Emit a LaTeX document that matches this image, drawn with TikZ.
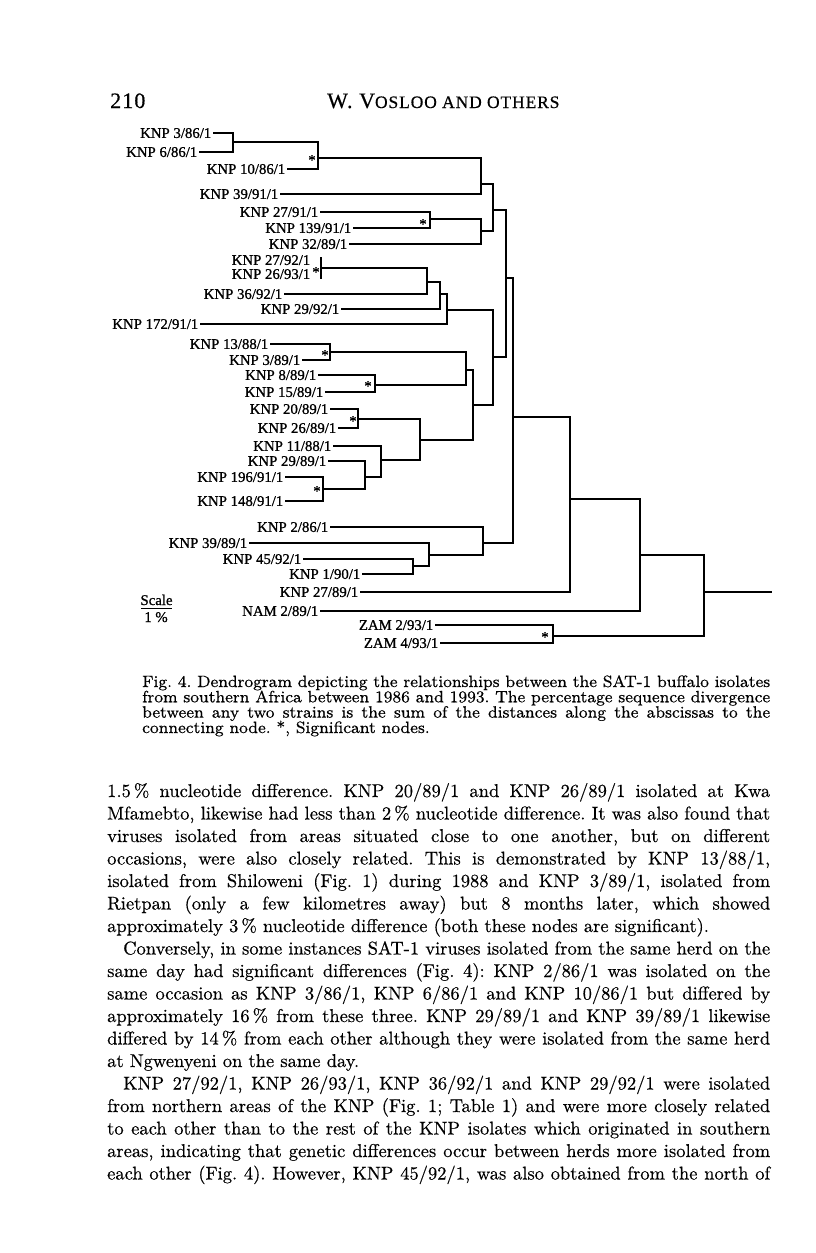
\documentclass[tikz,border=0pt]{standalone}
\usepackage{fontspec}
\newfontfamily\labserif{Liberation Serif}[FakeBold=0.9]
\newfontfamily\hdserif{Liberation Serif}[LetterSpace=5,FakeBold=0.5]
\newfontfamily\bodyrm{lmroman10-regular.otf}[FakeBold=0.4]
\newfontfamily\caprm{lmroman8-regular.otf}[FakeBold=0.4]
\newlength\mymw
\makeatletter
\newcommand\mymeasure[3]{\settowidth\mymw{#1\fontsize{10pt}{12pt}\selectfont #3}\xdef#2{\strip@pt\mymw}}
\makeatother
\newcommand\fsc[1]{{\fontsize{17.5pt}{17.5pt}\selectfont #1}}
\tikzset{
  leaf/.style={font=\fontsize{14.8pt}{16pt}\selectfont\labserif, anchor=east, inner xsep=1.5pt, inner ysep=0pt, text height=9.8pt, text depth=0pt},
  sig/.style={font=\fontsize{14.8pt}{16pt}\selectfont\labserif, inner sep=0pt},
  br/.style={line width=1.8pt, line join=miter},
  capline/.style={anchor=base west, inner sep=0pt, font=\caprm\fontsize{\capsize pt}{\capsize pt}\selectfont},
  bodyline/.style={anchor=base west, inner sep=0pt, font=\bodyrm\fontsize{\bodysize pt}{\bodysize pt}\selectfont},
  hd/.style={anchor=base west, inner sep=0pt, font=\hdserif\fontsize{22pt}{22pt}\selectfont}
}
\begin{document}
\frenchspacing
\mymeasure\caprm\wCa{Fig. 4. Dendrogram depicting the relationships between the SAT-1 buffalo isolates}%
\mymeasure\caprm\wCb{from southern Africa between 1986 and 1993. The percentage sequence divergence}%
\mymeasure\caprm\wCc{between any two strains is the sum of the distances along the abscissas to the}%
\pgfmathsetmacro\capsize{10*min(628/\wCa,628/\wCb,628/\wCc)}%
\mymeasure\bodyrm\wBa{Mfamebto, likewise had less than 2\,\% nucleotide difference. It was also found that}%
\mymeasure\bodyrm\wBb{differed by 14\,\% from each other although they were isolated from the same herd}%
\mymeasure\bodyrm\wBc{areas, indicating that genetic differences occur between herds more isolated from}%
\mymeasure\bodyrm\wBd{from northern areas of the KNP (Fig. 1; Table 1) and were more closely related}%
\mymeasure\bodyrm\wBe{to each other than to the rest of the KNP isolates which originated in southern}%
\pgfmathsetmacro\bodysize{10*min(663/\wBa,663/\wBb,663/\wBc,663/\wBd,663/\wBe)}%
\begin{tikzpicture}[x=1pt,y=-1pt]
\useasboundingbox[fill=white] (0,0) rectangle (816,1253);
% header
\node[hd] (pg) at (110,108) {210};
\node[hd] (rh) at (327,108) {W. V\fsc{OSLOO AND OTHERS}};
% leaves
\node[leaf] (a1) at (213,133) {KNP 3/86/1};
\node[leaf] (a2) at (199,152) {KNP 6/86/1};
\node[leaf] (a3) at (287,169) {KNP 10/86/1};
\node[leaf] (a4) at (280,194) {KNP 39/91/1};
\node[leaf] (a5) at (320,212) {KNP 27/91/1};
\node[leaf] (a6) at (353,228) {KNP 139/91/1};
\node[leaf] (a7) at (349,244) {KNP 32/89/1};
\node[leaf] (a8) at (312,260) {KNP 27/92/1};
\node[leaf] (a9) at (312,274) {KNP 26/93/1};
\node[leaf] (a10) at (284,294) {KNP 36/92/1};
\node[leaf] (a11) at (341,309) {KNP 29/92/1};
\node[leaf] (a12) at (200,324) {KNP 172/91/1};
\node[leaf] (a13) at (270,344) {KNP 13/88/1};
\node[leaf] (a14) at (302,360) {KNP 3/89/1};
\node[leaf] (a15) at (318,375) {KNP 8/89/1};
\node[leaf] (a16) at (325,392) {KNP 15/89/1};
\node[leaf] (a17) at (330,409) {KNP 20/89/1};
\node[leaf] (a18) at (338,428) {KNP 26/89/1};
\node[leaf] (a19) at (333,446) {KNP 11/88/1};
\node[leaf] (a20) at (328,461) {KNP 29/89/1};
\node[leaf] (a21) at (285,477) {KNP 196/91/1};
\node[leaf] (a22) at (285,501) {KNP 148/91/1};
\node[leaf] (a23) at (330,527) {KNP 2/86/1};
\node[leaf] (a24) at (249,543) {KNP 39/89/1};
\node[leaf] (a25) at (303,559) {KNP 45/92/1};
\node[leaf] (a26) at (362,574) {KNP 1/90/1};
\node[leaf] (a27) at (360,592) {KNP 27/89/1};
\node[leaf] (a28) at (320,611) {NAM 2/89/1};
\node[leaf] (a29) at (435,625) {ZAM 2/93/1};
\node[leaf] (a30) at (440,643) {ZAM 4/93/1};
% internal nodes
\coordinate (n1) at (233,142);
\coordinate (n2) at (318,158);
\coordinate (n3) at (481,184);
\coordinate (n4) at (430,219);
\coordinate (n5) at (481,231);
\coordinate (n6) at (493,210);
\coordinate (n7) at (321,268);
\coordinate (n7t) at (321,257);
\coordinate (n7b) at (321,279);
\coordinate (n8) at (427,282);
\coordinate (n9) at (440,294);
\coordinate (n10) at (447,310);
\coordinate (n11) at (330,352);
\coordinate (n12) at (375,385);
\coordinate (n13) at (466,370);
\coordinate (n14) at (358,419);
\coordinate (n15) at (323,489);
\coordinate (n16) at (365,477);
\coordinate (n17) at (381,460);
\coordinate (n18) at (420,440);
\coordinate (n19) at (473,405);
\coordinate (n20) at (493,357);
\coordinate (n21) at (506,278);
\coordinate (n22) at (413,566);
\coordinate (n23) at (429,555);
\coordinate (n24) at (483,543);
\coordinate (n25) at (513,417);
\coordinate (n26) at (570,499);
\coordinate (n27) at (640,555);
\coordinate (n28) at (553,636);
\coordinate (n29) at (704,592);
\coordinate (root) at (772,592);
% branches
\draw[br] (a1.east) -| (n1) |- (a2.east);
\draw[br] (n1) -| (n2) |- (a3.east);
\draw[br] (n2) -| (n3) |- (a4.east);
\draw[br] (a5.east) -| (n4) |- (a6.east);
\draw[br] (n4) -| (n5) |- (a7.east);
\draw[br] (n3) -| (n6) |- (n5);
\draw[br] (n7t) -- (n7b);
\draw[br] (n7) -| (n8) |- (a10.east);
\draw[br] (n8) -| (n9) |- (a11.east);
\draw[br] (n9) -| (n10) |- (a12.east);
\draw[br] (a13.east) -| (n11) |- (a14.east);
\draw[br] (a15.east) -| (n12) |- (a16.east);
\draw[br] (n11) -| (n13) |- (n12);
\draw[br] (a17.east) -| (n14) |- (a18.east);
\draw[br] (a21.east) -| (n15) |- (a22.east);
\draw[br] (a20.east) -| (n16) |- (n15);
\draw[br] (a19.east) -| (n17) |- (n16);
\draw[br] (n14) -| (n18) |- (n17);
\draw[br] (n13) -| (n19) |- (n18);
\draw[br] (n10) -| (n20) |- (n19);
\draw[br] (n6) -| (n21) |- (n20);
\draw[br] (a25.east) -| (n22) |- (a26.east);
\draw[br] (a24.east) -| (n23) |- (n22);
\draw[br] (a23.east) -| (n24) |- (n23);
\draw[br] (n21) -| (n25) |- (n24);
\draw[br] (n25) -| (n26) |- (a27.east);
\draw[br] (n26) -| (n27) |- (a28.east);
\draw[br] (a29.east) -| (n28) |- (a30.east);
\draw[br] (n27) -| (n29) |- (n28);
\draw[br] (n29) -- (root);
% significance marks
\node[sig] (s1) at (312,160) {*};
\node[sig] (s2) at (423,224) {*};
\node[sig] (s3) at (316,272) {*};
\node[sig] (s4) at (325,355) {*};
\node[sig] (s5) at (368,386) {*};
\node[sig] (s6) at (353,421) {*};
\node[sig] (s7) at (317,491) {*};
\node[sig] (s8) at (545,637) {*};
% scale
\node[sig, anchor=base] (sc) at (156.5,605) {Scale};
\coordinate (scl) at (141,608.5);
\coordinate (scr) at (172,608.5);
\draw[line width=1.2pt] (scl) -- (scr);
\node[sig, anchor=base] (pc) at (156,622) {1 \%};
% caption
\node[capline] (c1) at (142,687) {\makebox[628pt][s]{Fig. 4. Dendrogram depicting the relationships between the SAT-1 buffalo isolates}};
\node[capline] (c2) at (142,702.3) {\makebox[628pt][s]{from southern Africa between 1986 and 1993. The percentage sequence divergence}};
\node[capline] (c3) at (142,717.6) {\makebox[628pt][s]{between any two strains is the sum of the distances along the abscissas to the}};
\node[capline] (c4) at (142,733) {connecting node. *, Significant nodes.};
% body
\node[bodyline] (b1) at (107,797) {\makebox[663pt][s]{1.5\,\% nucleotide difference. KNP 20/89/1 and KNP 26/89/1 isolated at Kwa}};
\node[bodyline] (b2) at (107,819.5) {\makebox[663pt][s]{Mfamebto, likewise had less than 2\,\% nucleotide difference. It was also found that}};
\node[bodyline] (b3) at (107,842) {\makebox[663pt][s]{viruses isolated from areas situated close to one another, but on different}};
\node[bodyline] (b4) at (107,864.5) {\makebox[663pt][s]{occasions, were also closely related. This is demonstrated by KNP 13/88/1,}};
\node[bodyline] (b5) at (107,887) {\makebox[663pt][s]{isolated from Shiloweni (Fig. 1) during 1988 and KNP 3/89/1, isolated from}};
\node[bodyline] (b6) at (107,909.5) {\makebox[663pt][s]{Rietpan (only a few kilometres away) but 8 months later, which showed}};
\node[bodyline] (b7) at (107,932) {approximately 3\,\% nucleotide difference (both these nodes are significant).};
\node[bodyline] (b8) at (123,954.5) {\makebox[647pt][s]{Conversely, in some instances SAT-1 viruses isolated from the same herd on the}};
\node[bodyline] (b9) at (107,977) {\makebox[663pt][s]{same day had significant differences (Fig. 4): KNP 2/86/1 was isolated on the}};
\node[bodyline] (b10) at (107,999.5) {\makebox[663pt][s]{same occasion as KNP 3/86/1, KNP 6/86/1 and KNP 10/86/1 but differed by}};
\node[bodyline] (b11) at (107,1022) {\makebox[663pt][s]{approximately 16\,\% from these three. KNP 29/89/1 and KNP 39/89/1 likewise}};
\node[bodyline] (b12) at (107,1044.5) {\makebox[663pt][s]{differed by 14\,\% from each other although they were isolated from the same herd}};
\node[bodyline] (b13) at (107,1067) {at Ngwenyeni on the same day.};
\node[bodyline] (b14) at (123,1089.5) {\makebox[647pt][s]{KNP 27/92/1, KNP 26/93/1, KNP 36/92/1 and KNP 29/92/1 were isolated}};
\node[bodyline] (b15) at (107,1112) {\makebox[663pt][s]{from northern areas of the KNP (Fig. 1; Table 1) and were more closely related}};
\node[bodyline] (b16) at (107,1134.5) {\makebox[663pt][s]{to each other than to the rest of the KNP isolates which originated in southern}};
\node[bodyline] (b17) at (107,1157) {\makebox[663pt][s]{areas, indicating that genetic differences occur between herds more isolated from}};
\node[bodyline] (b18) at (107,1179.5) {\makebox[663pt][s]{each other (Fig. 4). However, KNP 45/92/1, was also obtained from the north of}};
\end{tikzpicture}
\end{document}
